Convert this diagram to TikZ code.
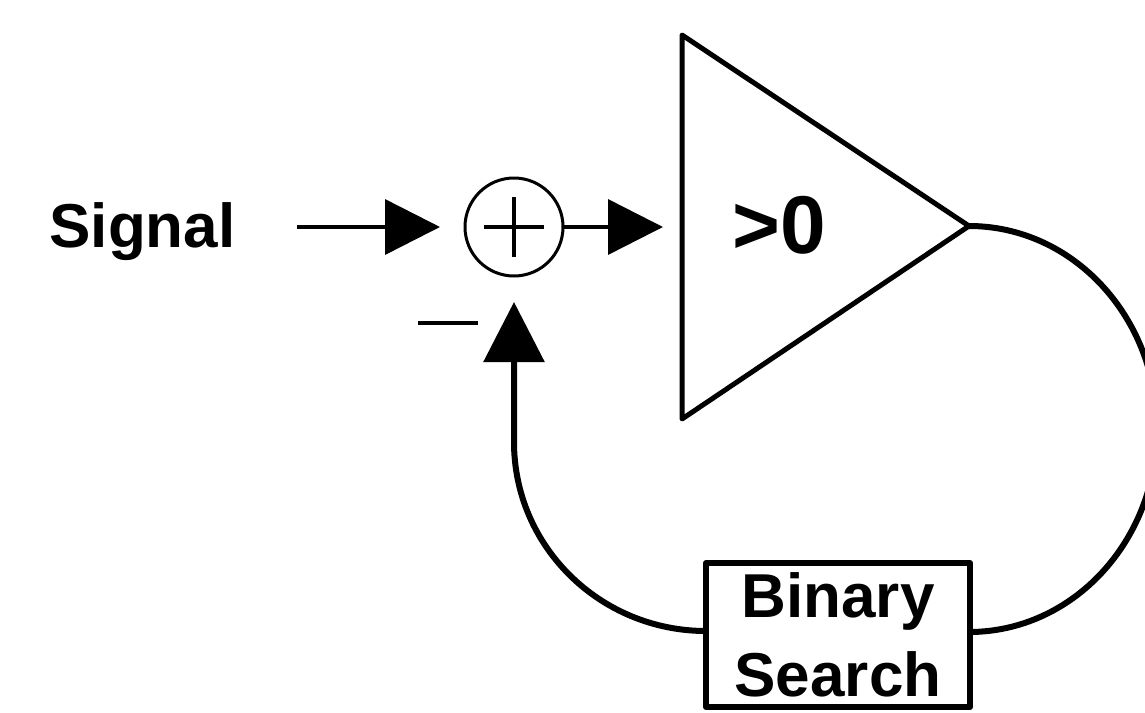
\documentclass[tikz,border=0pt]{standalone}
\usepackage{fontspec}
\setmainfont{Liberation Sans}
\usetikzlibrary{arrows.meta}
\begin{document}
\begin{tikzpicture}[x=1pt,y=-1pt,
  lbl/.style={font=\fontsize{62}{79}\selectfont\bfseries, inner sep=0pt},
  sigline/.style={line width=3.5pt},
  feed/.style={line width=6pt},
  headS/.style={-{Triangle[length=55pt,width=55pt]}},
  headL/.style={-{Triangle[length=60pt,width=60pt]}},
  sumnode/.style={draw, circle, line width=3pt, minimum size=98pt, inner sep=0pt, outer sep=0pt},
  boxnode/.style={draw, rectangle, lbl, align=center, line width=6pt, line join=round,
    minimum width=264pt, minimum height=144pt, outer sep=0pt}]
\useasboundingbox (0,0) rectangle (1145,712);

% input label and summing junction
\node[lbl, anchor=base] (sig) at (142.5,247) {Signal};
\node[sumnode] (sum) at (514,227) {};
\draw[line width=3.5pt] ([xshift=-30pt]sum.center) -- ([xshift=30pt]sum.center);
\draw[line width=3.5pt] ([yshift=30pt]sum.center) -- ([yshift=-30pt]sum.center);
\draw[line width=4pt] (418,323) -- (478,323);

% comparator
\coordinate (tl) at (682,35);
\coordinate (bl) at (682,419);
\coordinate (tip) at (969,226);
\draw[line width=5pt, line join=round] (tl) -- (tip) -- (bl) -- cycle;
\node[font=\fontsize{82}{90}\selectfont\bfseries, anchor=base, inner sep=0pt] (gt) at (779,253) {>0};

% search block
\node[boxnode] (bs) at (838,635) {Binary\\Search};

% forward path
\draw[sigline, headS, shorten <=61.5pt, shorten >=25pt] (sig.east |- sum.west) -- (sum.west);
\draw[sigline, headS, shorten >=19pt] (sum.east) -- (tl |- sum.east);

% feedback loop
\draw[feed] (tip) arc[start angle=-90, end angle=90, x radius=188, y radius=203]
  -- ([yshift=3pt]bs.east);
\draw[feed, headL, shorten >=26pt] ([yshift=4pt]bs.west)
  arc[start angle=90, end angle=180, x radius=192, y radius=189] -- (sum.south);
\end{tikzpicture}
\end{document}
